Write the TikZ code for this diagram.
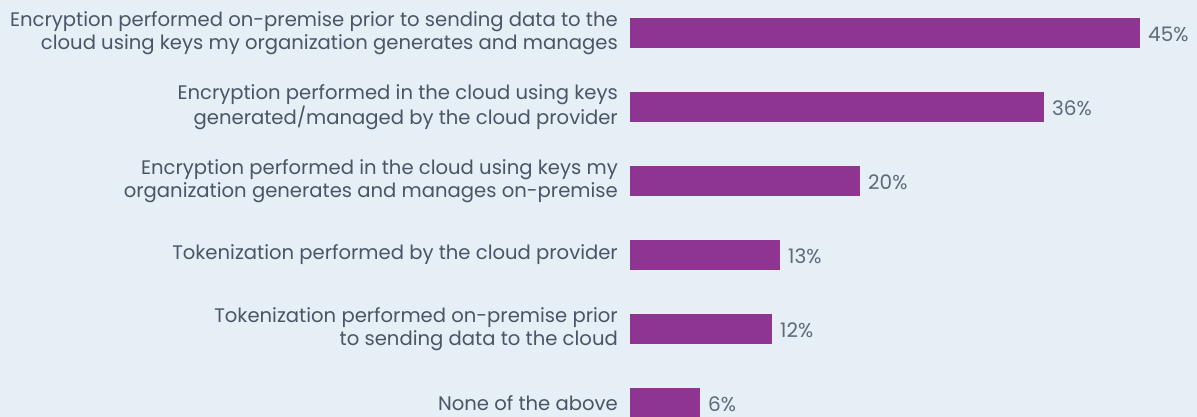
\documentclass[tikz,border=0pt]{standalone}
\usepackage{fontspec}
\setmainfont{Poppins}
\definecolor{bg}{HTML}{E6EEF6}
\definecolor{barc}{HTML}{8E3591}
\definecolor{txt}{HTML}{4A5566}
\definecolor{pct}{HTML}{5E6A78}
\begin{document}
\begin{tikzpicture}[x=1pt,y=-1pt,
  cat/.style={anchor=east,align=right,text=txt,font=\fontsize{19.6}{23}\selectfont,inner sep=0pt},
  pctlab/.style={anchor=west,text=pct,font=\fontsize{20}{22}\selectfont,inner sep=0pt},
  barbox/.style={fill=barc,draw=none}]
\fill[bg] (0,0) rectangle (1197,417);
\useasboundingbox (0,0) rectangle (1197,417);
\foreach \i/\e/\p/\t in {
  0/1140/45\%/{Encryption performed on-premise prior to sending data to the\\cloud using keys my organization generates and manages},
  1/1044/36\%/{Encryption performed in the cloud using keys\\generated/managed by the cloud provider},
  2/860/20\%/{Encryption performed in the cloud using keys my\\organization generates and manages on-premise},
  3/780/13\%/{Tokenization performed by the cloud provider},
  4/772/12\%/{Tokenization performed on-premise prior\\to sending data to the cloud},
  5/700/6\%/{None of the above}}{
  \path[barbox] (630,{18+74*\i}) rectangle (\e,{48+74*\i});
  \node[cat] (c\i) at (618,{33+74*\i}) {\t};
  \node[pctlab] (p\i) at (\e+8,{34+74*\i}) {\p};
}
\end{tikzpicture}
\end{document}
